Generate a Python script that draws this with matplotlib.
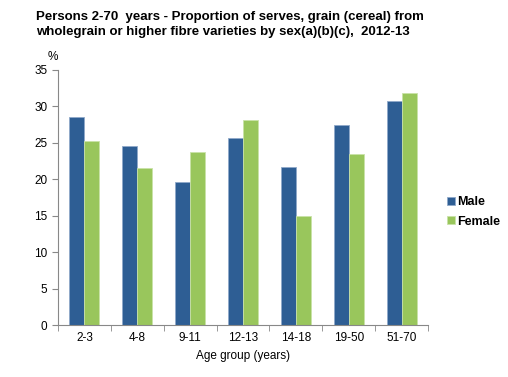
import numpy as np
import matplotlib.pyplot as plt

plt.rcParams['font.family'] = ['Liberation Sans', 'DejaVu Sans']

ages = ['2-3', '4-8', '9-11', '12-13', '14-18', '19-50', '51-70']
male = [28.5, 24.6, 19.6, 25.6, 21.7, 27.4, 30.8]
female = [25.2, 21.6, 23.7, 28.2, 14.9, 23.5, 31.9]

fig = plt.figure(figsize=(5.08, 3.77), dpi=100)
ax = fig.add_axes([58 / 508, 1 - 325 / 377, 370 / 508, 255 / 377])

x = np.arange(len(ages))
w = 0.285
ax.bar(x - w / 2, male, w, color='#2E5E94', edgecolor='#8FA9C9', linewidth=0.6, label='Male')
ax.bar(x + w / 2, female, w, color='#99C65C', edgecolor='#C9E2A8', linewidth=0.6, label='Female')

ax.set_xlim(-0.5, len(ages) - 0.5)
ax.set_ylim(0, 35)
ax.set_yticks(range(0, 36, 5))
ax.set_xticks(x)
ax.set_xticklabels(ages)
ax.set_xticks(np.arange(len(ages) + 1) - 0.5, minor=True)
ax.tick_params(axis='x', which='major', length=0, labelsize=8.5, pad=5)
ax.tick_params(axis='x', which='minor', length=4, color='#888888')
ax.tick_params(axis='y', length=4, labelsize=8.5, color='#888888')
for s in ['top', 'right']:
    ax.spines[s].set_visible(False)
ax.spines['left'].set_color('#888888')
ax.spines['bottom'].set_color('#888888')

ax.set_xlabel('Age group (years)', fontsize=8.5, labelpad=4)
fig.text(53 / 508, 1 - 60 / 377, '%', fontsize=8.5, ha='center')
fig.text(36 / 508, 1 - 11 / 377,
         'Persons 2-70  years - Proportion of serves, grain (cereal) from\n'
         'wholegrain or higher fibre varieties by sex(a)(b)(c),  2012-13',
         fontsize=9.5, fontweight='bold', va='top', linespacing=1.3)

fig.legend(loc='upper left', bbox_to_anchor=(441 / 508, 1 - 190 / 377),
           frameon=False, prop={'size': 9, 'weight': 'bold'},
           handlelength=0.6, handleheight=0.6,
           handletextpad=0.2, labelspacing=0.6, borderpad=0)

fig.savefig('out.png', dpi=100)
